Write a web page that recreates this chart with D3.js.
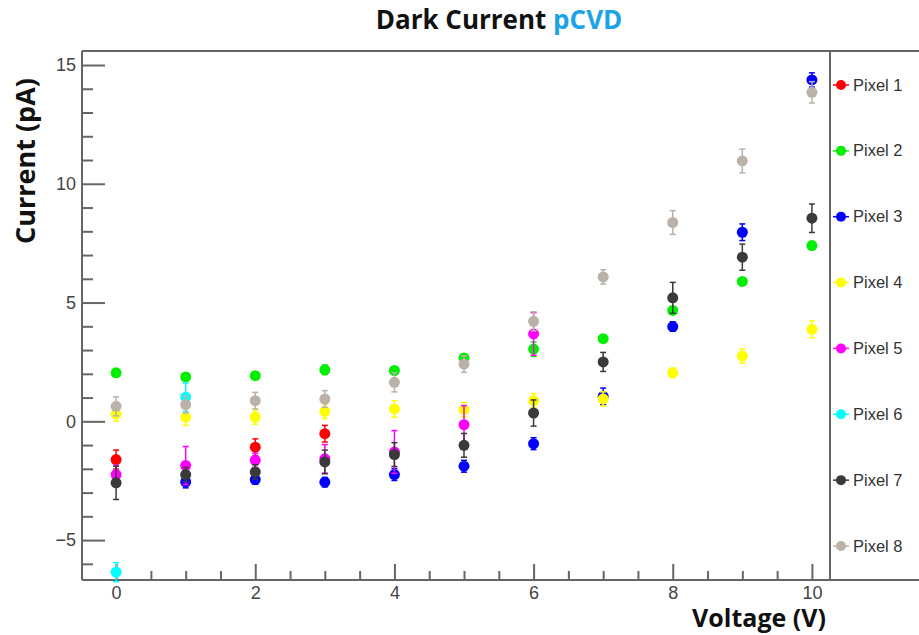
<!DOCTYPE html>
<html>
<head>
<meta charset="utf-8">
<script src="https://cdn.jsdelivr.net/npm/d3@7"></script>
<style>
body { margin: 0; background: #fff; }
</style>
</head>
<body>
<div id="svg-container"></div>
<script>
const voltages = [0, 1, 2, 3, 4, 5, 6, 7, 8, 9, 10];
const pixelNames = ["Pixel 1", "Pixel 2", "Pixel 3", "Pixel 4", "Pixel 5", "Pixel 6", "Pixel 7", "Pixel 8"];
const pixelColors = ["#ff0000", "#00ee00", "#0000ff", "#ffff00", "#ff00ff", "#00ffff", "#3a3a3a", "#bab1a9"];

// dark current in pA, null where the point is not visible
const pixel1 = [-1.61, null, -1.09, -0.52, null, null, null, null, null, null, null];
const pixel2 = [2.04, 1.87, 1.92, 2.17, 2.14, 2.67, 3.04, 3.48, 4.67, 5.89, 7.40];
const pixel3 = [null, -2.55, -2.45, -2.56, -2.24, -1.89, -0.94, 1.05, 3.99, 7.96, 14.37];
const pixel4 = [0.31, 0.18, 0.18, 0.42, 0.52, 0.49, 0.87, 0.94, 2.04, 2.75, 3.87];
const pixel5 = [-2.24, -1.86, -1.64, -1.58, -1.29, -0.14, 3.68, null, null, null, null];
const pixel6 = [-6.35, 1.01, null, null, null, null, null, null, null, null, null];
const pixel7 = [-2.59, -2.24, -2.13, -1.71, -1.40, -1.01, 0.35, 2.50, 5.20, 6.91, 8.55];
const pixel8 = [0.63, 0.70, 0.87, 0.94, 1.64, 2.41, 4.21, 6.08, 8.37, 10.96, 13.85];

// errors (pA)
const err1 = [0.4, 0, 0.35, 0.35, 0, 0, 0, 0, 0, 0, 0];
const err2 = [0.15, 0.15, 0.15, 0.2, 0.15, 0.15, 0.3, 0.15, 0.15, 0.15, 0.15];
const err3 = [0, 0.25, 0.2, 0.2, 0.25, 0.25, 0.25, 0.35, 0.2, 0.35, 0.3];
const err4 = [0.3, 0.35, 0.3, 0.3, 0.35, 0.3, 0.3, 0.3, 0.2, 0.3, 0.35];
const err5 = [0.4, 0.8, 0.3, 0.6, 0.9, 0.8, 0.9, 0, 0, 0, 0];
const err6 = [0.4, 0.6, 0, 0, 0, 0, 0, 0, 0, 0, 0];
const err7 = [0.7, 0.3, 0.3, 0.5, 0.5, 0.5, 0.55, 0.4, 0.65, 0.55, 0.6];
const err8 = [0.4, 0.35, 0.35, 0.35, 0.4, 0.35, 0.4, 0.3, 0.5, 0.5, 0.45];

const xTicks = [0, 2, 4, 6, 8, 10];
const yTicks = [-5, 0, 5, 10, 15];

const series = [pixel1, pixel2, pixel3, pixel4, pixel5, pixel6, pixel7, pixel8];
const errors = [err1, err2, err3, err4, err5, err6, err7, err8];

const svg = d3.select("#svg-container")
    .append("svg")
    .attr("width", 919)
    .attr("height", 635);

const plotLeft = 82, plotRight = 830, plotTop = 51, plotBottom = 580;

const x = d3.scaleLinear().domain([-0.49, 10.26]).range([plotLeft, plotRight]);
const y = d3.scaleLinear().domain([-6.68, 15.59]).range([plotBottom, plotTop]);

const frameColor = "#666";
const titleFont = "'Open Sans', Lato, sans-serif";

// axes: major + minor ticks drawn inward
const xMinor = d3.range(0, 10.01, 0.5).filter(v => v % 2 !== 0);
const yMinor = d3.range(-6, 16, 1).filter(v => v % 5 !== 0);

svg.append("g")
    .attr("transform", `translate(0,${plotBottom})`)
    .call(d3.axisBottom(x).tickValues(xMinor).tickSize(-9).tickFormat(""));

svg.append("g")
    .attr("class", "x-major")
    .attr("transform", `translate(0,${plotBottom})`)
    .call(d3.axisBottom(x).tickValues(xTicks).tickSize(-16).tickPadding(6));

svg.append("g")
    .attr("transform", `translate(${plotLeft},0)`)
    .call(d3.axisLeft(y).tickValues(yMinor).tickSize(-11).tickFormat(""));

svg.append("g")
    .attr("class", "y-major")
    .attr("transform", `translate(${plotLeft},0)`)
    .call(d3.axisLeft(y).tickValues(yTicks).tickSize(-23).tickPadding(6)
        .tickFormat(d => d < 0 ? "\u2212" + Math.abs(d) : d));

svg.selectAll(".domain").remove();
svg.selectAll(".tick line").attr("stroke", frameColor).attr("stroke-width", 2);
svg.selectAll(".tick text")
    .attr("fill", "#444")
    .style("font-family", "'Liberation Sans', Arial, sans-serif")
    .style("font-size", "18px");

// frame
const frame = svg.append("g")
    .attr("stroke", frameColor)
    .attr("stroke-width", 2);
frame.append("line").attr("x1", plotLeft).attr("x2", 919).attr("y1", plotTop).attr("y2", plotTop);
frame.append("line").attr("x1", plotLeft).attr("x2", 919).attr("y1", plotBottom).attr("y2", plotBottom);
frame.append("line").attr("x1", plotLeft).attr("x2", plotLeft).attr("y1", plotTop).attr("y2", plotBottom);
frame.append("line").attr("x1", plotRight).attr("x2", plotRight).attr("y1", plotTop).attr("y2", plotBottom);

// data points with error bars
series.forEach((vals, i) => {
    const color = pixelColors[i];
    const pts = voltages.map((v, j) => ({v: v, c: vals[j], e: errors[i][j]}))
        .filter(d => d.c !== null);
    const g = svg.append("g").attr("class", "pixel-" + (i + 1));

    const bars = g.selectAll(".err")
        .data(pts.filter(d => d.e > 0))
        .join("g")
        .attr("class", "err")
        .attr("stroke", color)
        .attr("stroke-width", 1.5);
    bars.append("line")
        .attr("x1", d => x(d.v)).attr("x2", d => x(d.v))
        .attr("y1", d => y(d.c - d.e)).attr("y2", d => y(d.c + d.e));
    bars.append("line")
        .attr("x1", d => x(d.v) - 3).attr("x2", d => x(d.v) + 3)
        .attr("y1", d => y(d.c - d.e)).attr("y2", d => y(d.c - d.e));
    bars.append("line")
        .attr("x1", d => x(d.v) - 3).attr("x2", d => x(d.v) + 3)
        .attr("y1", d => y(d.c + d.e)).attr("y2", d => y(d.c + d.e));

    g.selectAll("circle")
        .data(pts)
        .join("circle")
        .attr("cx", d => x(d.v))
        .attr("cy", d => y(d.c))
        .attr("r", 5.5)
        .attr("fill", color);
});

// legend
const legendY = d3.scaleLinear().domain([0, 7]).range([85, 546]);
const legend = svg.append("g");
pixelNames.forEach((name, i) => {
    const ly = legendY(i);
    legend.append("line")
        .attr("x1", 833).attr("x2", 849)
        .attr("y1", ly).attr("y2", ly)
        .attr("stroke", pixelColors[i])
        .attr("stroke-width", 1.5);
    legend.append("circle")
        .attr("cx", 841).attr("cy", ly).attr("r", 5)
        .attr("fill", pixelColors[i]);
    legend.append("text")
        .attr("x", 853).attr("y", ly + 5.5)
        .attr("fill", "#333")
        .style("font-family", "'Liberation Sans', Arial, sans-serif")
        .style("font-size", "16.5px")
        .text(name);
});

// titles
const title = svg.append("text")
    .attr("x", 499).attr("y", 29)
    .attr("text-anchor", "middle")
    .style("font-family", titleFont)
    .style("font-weight", "bold")
    .style("font-size", "26px");
title.append("tspan").attr("fill", "#111").text("Dark Current ");
title.append("tspan").attr("fill", "#1ba3e6").text("pCVD");

svg.append("text")
    .attr("x", 826).attr("y", 627)
    .attr("text-anchor", "end")
    .attr("fill", "#111")
    .style("font-family", titleFont)
    .style("font-weight", "bold")
    .style("font-size", "25px")
    .text("Voltage (V)");

svg.append("text")
    .attr("transform", "translate(35,161) rotate(-90)")
    .attr("text-anchor", "middle")
    .attr("fill", "#111")
    .style("font-family", titleFont)
    .style("font-weight", "bold")
    .style("font-size", "27px")
    .text("Current (pA)");
</script>
</body>
</html>
